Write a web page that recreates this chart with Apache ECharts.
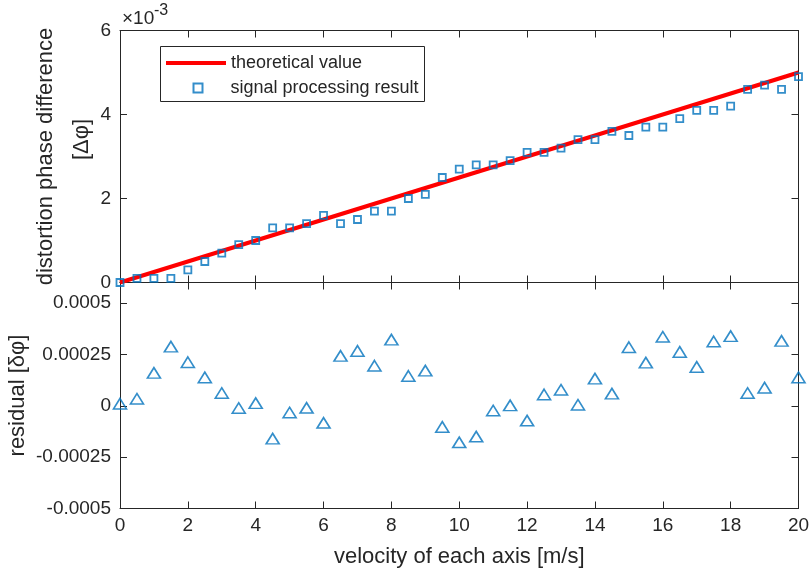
<!DOCTYPE html>
<html>
<head>
<meta charset="utf-8">
<script src="https://cdn.jsdelivr.net/npm/echarts@6/dist/echarts.min.js"></script>
<style>html,body{margin:0;padding:0;background:#fff}#c{width:810px;height:576px}</style>
</head>
<body>
<div id="c"></div>
<script>
// velocity of each axis [m/s]
const velocity = [0, 0.5, 1, 1.5, 2, 2.5, 3, 3.5, 4, 4.5, 5, 5.5, 6, 6.5, 7, 7.5, 8, 8.5, 9, 9.5, 10,
  10.5, 11, 11.5, 12, 12.5, 13, 13.5, 14, 14.5, 15, 15.5, 16, 16.5, 17, 17.5, 18, 18.5, 19, 19.5, 20];
// signal processing result [Δφ]
const measured = [0, 0.0001, 0.0001, 0.0001, 0.0003, 0.0005, 0.0007, 0.0009, 0.0010, 0.0013, 0.0013,
  0.0014, 0.0016, 0.0014, 0.0015, 0.0017, 0.0017, 0.0020, 0.0021, 0.0025, 0.0027,
  0.0028, 0.0028, 0.0029, 0.0031, 0.0031, 0.0032, 0.0034, 0.0034, 0.0036, 0.0035,
  0.0037, 0.0037, 0.0039, 0.0041, 0.0041, 0.0042, 0.0046, 0.0047, 0.0046, 0.0049];
// theoretical value line endpoints
const theoX = [0, 20];
const theoY = [0, 0.005];
// residual [δφ]
const residual = [0.00001, 0.000034, 0.00016, 0.000288, 0.000212, 0.000138, 0.000062, -0.000011, 0.000013, -0.00016, -0.000033,
  -0.00001, -0.000083, 0.000243, 0.000267, 0.000195, 0.000322, 0.000145, 0.000171, -0.000103, -0.000178,
  -0.00015, -0.000023, 0.000002, -0.000072, 0.000055, 0.000078, 0.000005, 0.000132, 0.000059, 0.000285,
  0.00021, 0.000336, 0.000262, 0.000189, 0.000313, 0.000339, 0.000062, 0.000088, 0.000316, 0.000138];

const FONT = 'Liberation Sans, Arial, Helvetica, sans-serif';
const TXT = '#262626';
const LINE = '#262626';
const BLUE = '#0072BD';

function xAx(grid, pos, showLabel, name) {
  return {
    type: 'value', gridIndex: grid, position: pos, min: 0, max: 20, interval: 2,
    axisLine: { show: true, onZero: false, lineStyle: { color: LINE, width: 1 } },
    axisTick: { show: true, inside: true, length: 7, lineStyle: { color: LINE, width: 1 } },
    axisLabel: { show: showLabel, color: TXT, fontSize: 19, fontFamily: FONT, margin: 8 },
    splitLine: { show: false },
    name: name || '', nameLocation: 'middle', nameGap: 37, nameMoveOverlap: false,
    nameTextStyle: { color: TXT, fontSize: 22, fontFamily: FONT }
  };
}
function yAx(grid, pos, min, max, interval, showLabel, fmt, name, nameGap) {
  return {
    type: 'value', gridIndex: grid, position: pos, min: min, max: max, interval: interval,
    axisLine: { show: true, onZero: false, lineStyle: { color: LINE, width: 1 } },
    axisTick: { show: true, inside: true, length: 7, lineStyle: { color: LINE, width: 1 } },
    axisLabel: { show: showLabel, color: TXT, fontSize: 19, fontFamily: FONT, margin: 9, formatter: fmt, showMaxLabel: true },
    splitLine: { show: false },
    name: name || '', nameLocation: 'middle', nameGap: nameGap || 0, nameMoveOverlap: false,
    nameTextStyle: {
      color: TXT, fontSize: 22, fontFamily: FONT, lineHeight: 36,
      rich: {
        a: { fontSize: 22, fontFamily: FONT, color: TXT, lineHeight: 36 },
        b: { fontSize: 22, fontFamily: FONT, color: TXT, lineHeight: 36, padding: [0, 0, 0, 34] }
      }
    }
  };
}

const chart = echarts.init(document.getElementById('c'), null, { renderer: 'canvas' });
const resAxis = yAx(1, 'left', -0.0005, 0.0006, 0.00025, true,
  v => String(Math.round(v * 1e5) / 1e5), 'residual [δφ]', 84);
resAxis.axisLabel.showMaxLabel = false;

chart.setOption({
  animation: false,
  backgroundColor: '#fff',
  grid: [
    { left: 120, top: 30.5, width: 678.5, height: 252, show: false, containLabel: false, outerBoundsMode: 'none' },
    { left: 120, top: 282.5, width: 678.5, height: 226, show: false, containLabel: false, outerBoundsMode: 'none' }
  ],
  xAxis: [
    xAx(0, 'bottom', false),
    xAx(0, 'top', false),
    xAx(1, 'bottom', true, 'velocity of each axis [m/s]'),
    xAx(1, 'top', false)
  ],
  yAxis: [
    yAx(0, 'left', 0, 0.006, 0.002, true, v => String(Math.round(v * 1000)),
      '{a|distortion phase difference}\n{b|[Δφ]}', 20),
    yAx(0, 'right', 0, 0.006, 0.002, false),
    resAxis,
    yAx(1, 'right', -0.0005, 0.0006, 0.00025, false)
  ],
  legend: [
    {
      data: [{ name: 'theoretical value', icon: 'rect' }], left: 166, top: 54, padding: 0,
      itemWidth: 60, itemHeight: 4,
      textStyle: { color: TXT, fontSize: 18, fontFamily: FONT }, z: 6
    },
    {
      data: ['signal processing result'], left: 192.5, top: 79, padding: 0, itemWidth: 9, itemHeight: 9,
      textStyle: { color: TXT, fontSize: 18, fontFamily: FONT, padding: [0, 0, 0, 23] }, z: 6
    }
  ],
  graphic: [
    { type: 'rect', z: 4, shape: { x: 160.5, y: 46.5, width: 264, height: 55 },
      style: { fill: '#fff', stroke: '#262626', lineWidth: 1 } },
    { type: 'text', z: 5, left: 122, top: 9, style: { text: '×10', font: '19px ' + FONT, fill: TXT } },
    { type: 'text', z: 5, left: 154, top: 3, style: { text: '-3', font: '16px ' + FONT, fill: TXT } }
  ],
  series: [
    {
      name: 'theoretical value', type: 'line', xAxisIndex: 0, yAxisIndex: 0,
      data: theoX.map((x, i) => [x, theoY[i]]),
      symbol: 'none', lineStyle: { color: '#ff0000', width: 4 }, itemStyle: { color: '#ff0000' }, z: 2
    },
    {
      name: 'signal processing result', type: 'scatter', xAxisIndex: 0, yAxisIndex: 0,
      data: velocity.map((x, i) => [x, measured[i]]),
      symbol: 'rect', symbolSize: 7,
      itemStyle: { color: 'rgba(0,0,0,0)', borderColor: BLUE, borderWidth: 1.8 }, z: 3, clip: false
    },
    {
      name: 'residual', type: 'scatter', xAxisIndex: 2, yAxisIndex: 2,
      data: velocity.map((x, i) => [x, residual[i]]),
      symbol: 'triangle', symbolSize: [13, 10.5],
      itemStyle: { color: 'rgba(0,0,0,0)', borderColor: BLUE, borderWidth: 1.6 }, z: 3, clip: false
    }
  ]
});
</script>
</body>
</html>
